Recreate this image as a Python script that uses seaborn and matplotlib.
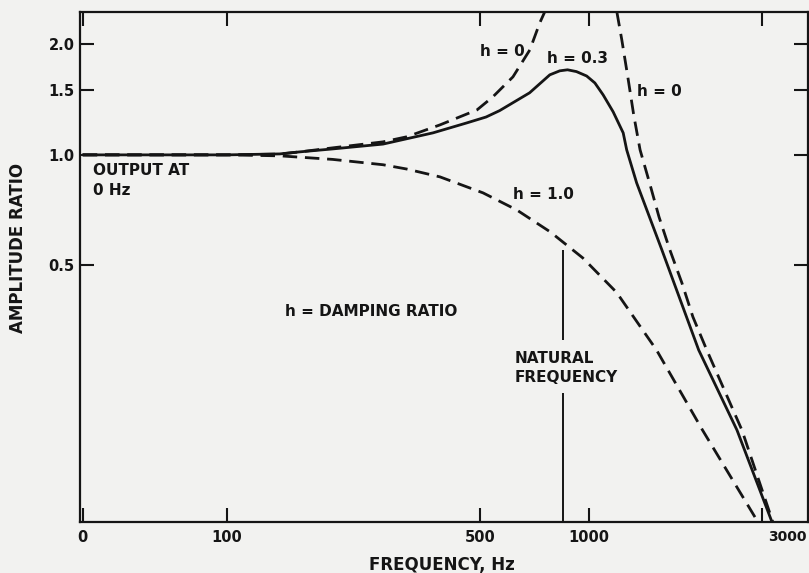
import matplotlib
matplotlib.use("Agg")
import matplotlib.pyplot as plt
from matplotlib.ticker import NullLocator
import seaborn as sns

# Values (log-log axes)
h0_left_freq = [40, 100, 140, 159, 196, 270, 314, 388, 491, 543, 617, 687, 732, 755]
h0_left_amp = [1.0, 1.0, 1.005, 1.019, 1.045, 1.085, 1.12, 1.207, 1.326, 1.439, 1.631, 1.932, 2.29, 2.45]

h0_right_freq = [1195, 1233, 1281, 1330, 1385, 1471, 1562, 1674, 1807, 1938, 2117, 2647, 3222]
h0_right_amp = [2.45, 2.058, 1.631, 1.285, 1.032, 0.839, 0.678, 0.551, 0.448, 0.362, 0.294, 0.178, 0.1]

h03_freq = [40, 100, 140, 159, 196, 270, 371, 460, 520, 567, 686, 780, 831, 873, 924, 986,
            1039, 1095, 1167, 1244, 1272, 1355, 1591, 2011, 2565, 3205]
h03_amp = [1.0, 1.0, 1.006, 1.019, 1.038, 1.07, 1.148, 1.222, 1.268, 1.32, 1.476, 1.652, 1.694, 1.705, 1.686, 1.64,
           1.57, 1.457, 1.31, 1.148, 1.032, 0.839, 0.551, 0.294, 0.178, 0.1]

h1_freq = [40, 100, 140, 196, 270, 314, 388, 510, 632, 782, 962, 1193, 1538, 2060, 2931]
h1_amp = [1.0, 1.0, 0.994, 0.972, 0.94, 0.915, 0.871, 0.788, 0.708, 0.617, 0.524, 0.422, 0.294, 0.178, 0.1]

natural_freq = 847
natural_line_lo = [0.1, 0.313]
natural_line_hi = [0.224, 0.551]

freq_ticks = [40, 100, 500, 1000]
freq_ticklabels = ["0", "100", "500", "1000"]
amp_ticks = [0.5, 1.0, 1.5, 2.0]
amp_ticklabels = ["0.5", "1.0", "1.5", "2.0"]

ink = "#151515"
paper = "#f2f2f0"

sns.set_style("ticks")
plt.rcParams["font.family"] = ["DejaVu Sans"]
plt.rcParams["font.weight"] = "bold"
plt.rcParams["axes.labelweight"] = "bold"

fig = plt.figure(figsize=(8.09, 5.73), dpi=100, facecolor=paper)
ax = fig.add_axes([80 / 809, 51 / 573, 728 / 809, 510 / 573])
ax.set_facecolor(paper)

dash = (0, (5.2, 2.8))
sns.lineplot(x=h0_left_freq, y=h0_left_amp, ax=ax, color=ink, lw=2, linestyle=dash, sort=False, estimator=None)
sns.lineplot(x=h0_right_freq, y=h0_right_amp, ax=ax, color=ink, lw=2, linestyle=dash, sort=False, estimator=None)
sns.lineplot(x=h1_freq, y=h1_amp, ax=ax, color=ink, lw=2, linestyle=dash, sort=False, estimator=None)
sns.lineplot(x=h03_freq, y=h03_amp, ax=ax, color=ink, lw=2, sort=False, estimator=None)

# natural frequency marker, broken where the label sits
ax.vlines([natural_freq, natural_freq], natural_line_lo, natural_line_hi, color=ink, lw=1.4)

ax.set_xscale("log")
ax.set_yscale("log")
ax.set_xlim(39.3, 4030)
ax.set_ylim(0.1, 2.45)

ax.set_xticks(freq_ticks + [3000])
ax.set_xticklabels(freq_ticklabels + [""])
ax.set_yticks(amp_ticks)
ax.set_yticklabels(amp_ticklabels)
ax.xaxis.set_minor_locator(NullLocator())
ax.yaxis.set_minor_locator(NullLocator())
ax.tick_params(which="major", direction="in", length=10, width=1.5, color=ink,
               top=True, right=True, labelsize=10.5, labelcolor=ink)
ax.tick_params(axis="x", pad=6)
ax.tick_params(axis="y", pad=4)
ax.annotate("3000", xy=(3000, 0), xycoords=("data", "axes fraction"), xytext=(7, -8),
            textcoords="offset pixels", ha="left", va="top", fontsize=10, color=ink)

for s in ax.spines.values():
    s.set_linewidth(1.6)
    s.set_color(ink)

ax.set_xlabel("FREQUENCY, Hz", fontsize=12, color=ink)
ax.xaxis.set_label_coords(0.497, -0.066)
ax.set_ylabel("AMPLITUDE RATIO", fontsize=12, color=ink)
ax.yaxis.set_label_coords(-0.073, 0.537)

txt = dict(transform=ax.transAxes, fontsize=11, color=ink)
ax.text(0.018, 0.704, "OUTPUT AT\n0 Hz", ha="left", va="top", linespacing=1.45, **txt)
ax.text(0.549, 0.9235, "h = 0", ha="left", va="center", **txt)
ax.text(0.6415, 0.908, "h = 0.3", ha="left", va="center", **txt)
ax.text(0.765, 0.845, "h = 0", ha="left", va="center", **txt)
ax.text(0.595, 0.643, "h = 1.0", ha="left", va="center", **txt)
ax.text(0.2816, 0.412, "h = DAMPING RATIO", ha="left", va="center", **txt)
ax.text(0.5975, 0.335, "NATURAL\nFREQUENCY", ha="left", va="top", linespacing=1.3, **txt)

fig.savefig("out.png", dpi=100, facecolor=paper)
